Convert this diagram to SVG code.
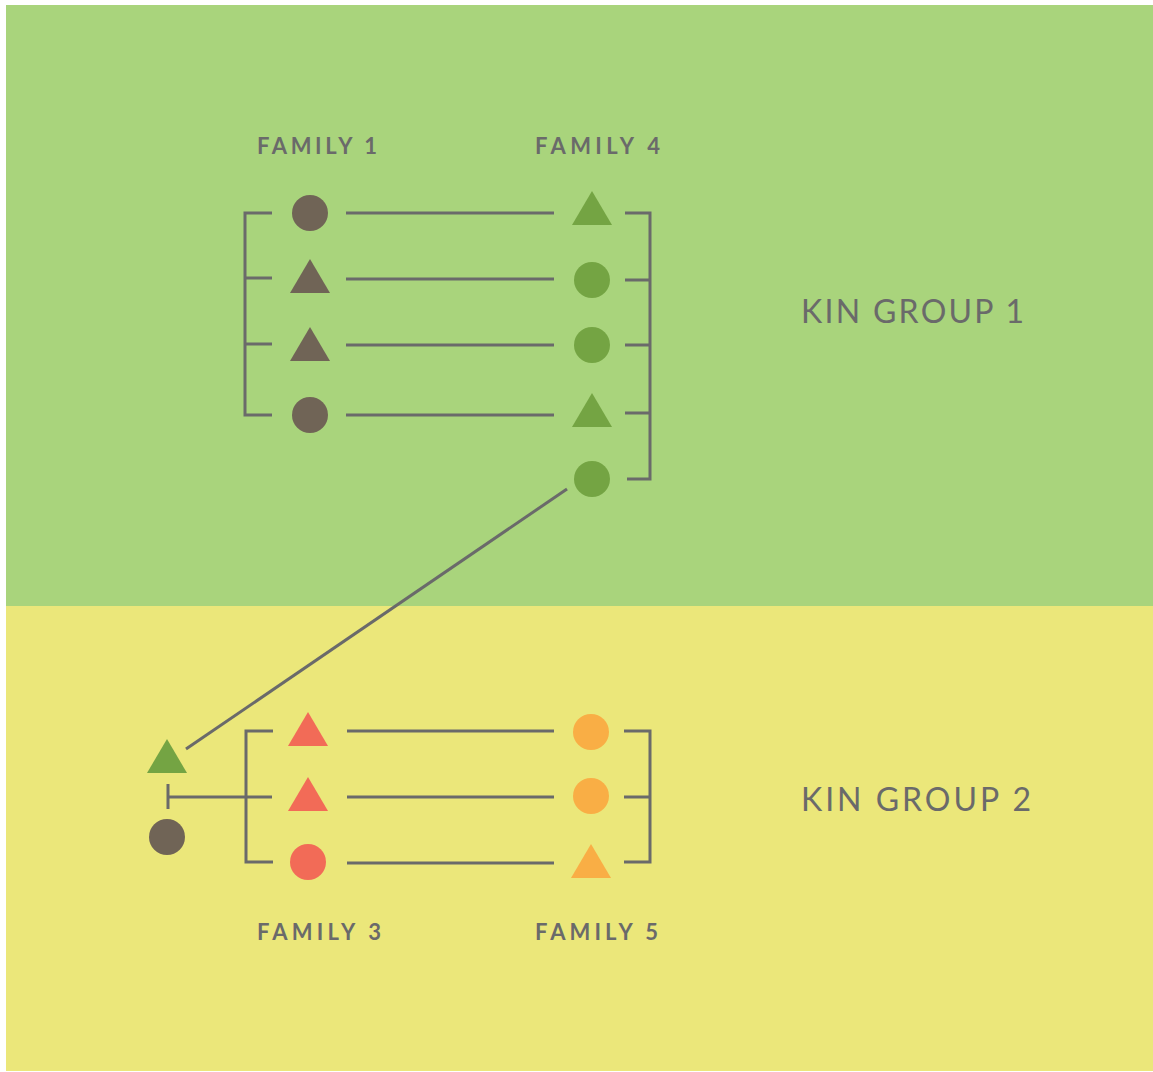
<svg xmlns="http://www.w3.org/2000/svg" width="1153" height="1072" viewBox="0 0 1153 1072">
<style>
.ln{stroke:#6A6A6A;stroke-width:3;fill:none}
.fam{font-family:Lato,"Noto Sans",sans-serif;font-weight:bold;font-size:22px;fill:#6A6A6A}
.kin{font-family:Lato,"Noto Sans",sans-serif;font-weight:normal;font-size:32px;fill:#6A6A6A}
.br{fill:#706456}.gr{fill:#74A443}.rd{fill:#F26B57}.or{fill:#F9AE45}
</style>
<defs>
<polygon id="tri" points="0,-17 20,17 -20,17"/>
</defs>
<rect x="0" y="0" width="1153" height="1072" fill="#ffffff"/>
<rect x="6" y="5" width="1147" height="601" fill="#A9D47C"/>
<rect x="6" y="606" width="1147" height="465" fill="#EBE77A"/>
<g id="connectors">
<path class="ln" d="M272,213H245V415H272M245,278H272M245,344H272"/>
<path class="ln" d="M346,213H554M346,279H554M346,345H554M346,415H554"/>
<path class="ln" d="M625,213H650V479H627M625,280H650M625,345H650M625,413H650"/>
<path class="ln" d="M567,489L186,749"/>
<path class="ln" d="M168,784V809M168,797H272"/>
<path class="ln" d="M273,731H246V862H273"/>
<path class="ln" d="M347,731H554M347,797H554M347,863H554"/>
<path class="ln" d="M624,731H650V862H624M624,797H650"/>
</g>
<g id="family1">
<text class="fam" x="257" y="154" textLength="120" lengthAdjust="spacing">FAMILY 1</text>
<circle class="br" cx="310" cy="213" r="18"/>
<use href="#tri" class="br" x="310" y="276"/>
<use href="#tri" class="br" x="310" y="344"/>
<circle class="br" cx="310" cy="415" r="18"/>
</g>
<g id="family4">
<text class="fam" x="535" y="154" textLength="125" lengthAdjust="spacing">FAMILY 4</text>
<use href="#tri" class="gr" x="592" y="208"/>
<circle class="gr" cx="592" cy="280" r="18"/>
<circle class="gr" cx="592" cy="345" r="18"/>
<use href="#tri" class="gr" x="592" y="410"/>
<circle class="gr" cx="592" cy="479" r="18"/>
</g>
<g id="kingroup1">
<text class="kin" x="801" y="323" textLength="223" lengthAdjust="spacing">KIN GROUP 1</text>
</g>
<g id="person-left">
<use href="#tri" class="gr" x="167" y="756"/>
<circle class="br" cx="167" cy="837" r="18"/>
</g>
<g id="family3">
<use href="#tri" class="rd" x="308" y="729"/>
<use href="#tri" class="rd" x="308" y="794"/>
<circle class="rd" cx="308" cy="862" r="18"/>
<text class="fam" x="257" y="940" textLength="124" lengthAdjust="spacing">FAMILY 3</text>
</g>
<g id="family5">
<circle class="or" cx="591" cy="732" r="18"/>
<circle class="or" cx="591" cy="796" r="18"/>
<use href="#tri" class="or" x="591" y="861"/>
<text class="fam" x="535" y="940" textLength="123" lengthAdjust="spacing">FAMILY 5</text>
</g>
<g id="kingroup2">
<text class="kin" x="801" y="811" textLength="230" lengthAdjust="spacing">KIN GROUP 2</text>
</g>
</svg>
